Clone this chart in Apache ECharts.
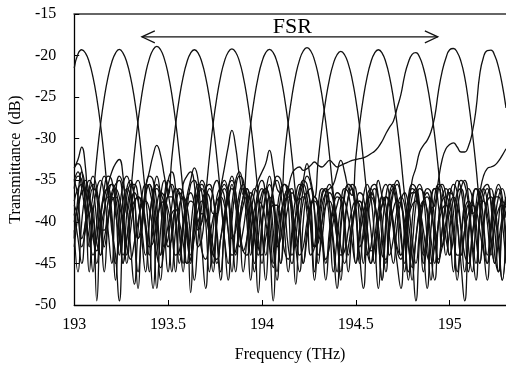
<!DOCTYPE html>
<html>
<head>
<meta charset="utf-8">
<script src="https://cdn.jsdelivr.net/npm/echarts@6/dist/echarts.min.js"></script>
<style>
  html, body { margin: 0; padding: 0; background: #fff; }
  #chart { width: 506px; height: 370px; }
</style>
</head>
<body>
<div id="chart"></div>
<script>
// frequency grid (THz)
var freqs = [
  193.00,193.02,193.04,193.06,193.08,193.10,193.12,193.14,193.16,193.18,
  193.20,193.22,193.24,193.26,193.28,193.30,193.32,193.34,193.36,193.38,
  193.40,193.42,193.44,193.46,193.48,193.50,193.52,193.54,193.56,193.58,
  193.60,193.62,193.64,193.66,193.68,193.70,193.72,193.74,193.76,193.78,
  193.80,193.82,193.84,193.86,193.88,193.90,193.92,193.94,193.96,193.98,
  194.00,194.02,194.04,194.06,194.08,194.10,194.12,194.14,194.16,194.18,
  194.20,194.22,194.24,194.26,194.28,194.30,194.32,194.34,194.36,194.38,
  194.40,194.42,194.44,194.46,194.48,194.50,194.52,194.54,194.56,194.58,
  194.60,194.62,194.64,194.66,194.68,194.70,194.72,194.74,194.76,194.78,
  194.80,194.82,194.84,194.86,194.88,194.90,194.92,194.94,194.96,194.98,
  195.00,195.02,195.04,195.06,195.08,195.10,195.12,195.14,195.16,195.18,
  195.20,195.22,195.24,195.26,195.28,195.30
];

// transmittance of each output channel (dB)
var ch1 = [
  -21.5,-19.8,-19.3,-19.7,-20.8,-22.6,-25.1,-28.3,-32.3,-36.8,
  -40,-47,-39,-35.5,-34.5,-36,-41,-48,-40,-36,
  -34.5,-35,-38,-44,-38,-35,-34,-36,-41,-46,
  -39,-35.5,-35,-37,-43,-48,-40,-36,-35,-37.5,
  -42,-45,-38,-35,-34,-36,-40,-47,-41,-37,
  -36,-37,-40,-45,-39,-36,-35.5,-38,-44,-42,
  -37,-35,-35.5,-39,-46,-40,-36.5,-36,-38,-43,
  -48,-41,-37,-35.5,-36,-39,-45,-41,-37,-36,
  -37.5,-42,-47,-40,-36.5,-35.5,-37,-41,-46,-40,
  -37,-36,-38,-43,-48,-41,-37,-35.5,-36,-39,
  -44,-42,-37,-35,-35.5,-38,-43,-47,-40,-37,
  -36,-37.5,-41,-46,-40,-37
];
var ch2 = [
  -33.5,-32.5,-31,-33.5,-39,-36.8,-32.3,-28.3,-25.1,-22.6,
  -20.8,-19.7,-19.25,-19.7,-20.8,-22.6,-25.1,-28.3,-32.3,-36.8,
  -42,-48,-41,-37,-35,-36.5,-40,-46,-39,-35.5,
  -34.5,-34,-35.5,-41,-40,-36,-35.5,-37,-42,-47,
  -40,-36,-35,-36.5,-40,-46,-42,-37.5,-36,-37,
  -41,-47,-40,-36,-34.5,-35,-38,-43,-45,-39,
  -36,-35.5,-37,-41,-47,-41,-37,-36,-38,-42,
  -46,-40,-36.5,-35.5,-36,-39,-44,-48,-41,-37,
  -36,-37,-40,-45,-40,-36.5,-35.5,-37,-41,-46,
  -43,-38,-36,-36.5,-39,-44,-47,-40,-37,-36,
  -37,-41,-47,-42,-37.5,-36,-37,-40,-45,-41,
  -37,-36,-38,-42,-47,-41
];
var ch3 = [
  -35,-34,-36,-39,-42,-44,-42,-39,-37,-35.5,
  -34,-33,-32.5,-34.5,-39,-36.4,-31.9,-27.9,-24.7,-22.2,
  -20.4,-19.3,-18.9,-19.3,-20.4,-22.2,-24.7,-27.9,-31.9,-36.4,
  -42,-44.5,-41,-38.5,-37.5,-38,-40,-43,-45,-42,
  -39,-37.5,-35.5,-38,-40.5,-43.5,-44,-41,-38.5,-37.5,
  -38,-40,-43,-45.5,-42,-39,-37.5,-37,-38.5,-41,
  -44,-43,-40,-38,-37.5,-38.5,-41,-44.5,-43,-40,
  -38,-37,-37.5,-39.5,-42.5,-45,-42,-39,-37.5,-37,
  -38,-40.5,-44,-44.5,-41,-38.5,-37.5,-38,-40,-43,
  -45.5,-42,-39,-37.5,-37,-38.5,-41.5,-44.5,-43,-40,
  -38,-37,-38,-40.5,-44,-45,-41.5,-39,-37.5,-37.5,
  -39,-42,-45,-42.5,-39.5,-38
];
var ch4 = [
  -36,-34.5,-35,-38,-43,-38,-49.5,-40,-36,-34.5,
  -35,-38,-44,-40,-36,-35,-37,-42,-41,-36,
  -34,-32,-30.8,-32,-34.5,-36.8,-32.3,-28.3,-25.1,-22.6,
  -20.8,-19.7,-19.3,-19.7,-20.8,-22.6,-25.1,-28.3,-32.3,-36.8,
  -42,-47,-40,-36,-34.5,-35,-38,-44,-40,-36,
  -35,-37,-42,-49.5,-41,-37,-35.5,-36,-40,-47.5,
  -40,-36,-34.5,-35.5,-39,-45,-40,-36.5,-35.5,-37,
  -41,-47,-41,-37,-35.5,-36,-40,-45,-39,-36,
  -35.5,-37,-42,-46,-39,-36,-35,-37,-42,-47,
  -40,-36.5,-35.5,-37,-42,-47,-40,-36,-35.5,-37,
  -41,-46,-39,-36,-35,-37,-42,-45,-39,-36,
  -35.5,-38,-44,-46,-40,-37
];
var ch5 = [
  -33.5,-33,-33.8,-38,-46,-39,-36,-35,-37,-41,
  -45,-37,-34.5,-35.5,-38,-43,-47.5,-41,-37,-35.5,
  -36,-39,-48,-41,-37,-35,-36,-39,-44,-40,
  -37,-35,-33.5,-35,-40,-36.7,-32.2,-28.2,-25.0,-22.5,
  -20.7,-19.6,-19.2,-19.6,-20.7,-22.5,-25.0,-28.2,-32.2,-36.7,
  -41,-44,-39,-36,-35,-36.5,-41,-46,-41,-37,
  -35.5,-36,-39,-44,-43,-38,-36,-36.5,-40,-46,
  -42,-38,-36,-36.5,-40,-45,-41,-37,-35.5,-37,
  -42,-48,-41,-37,-35.5,-36,-39,-44,-42,-38,
  -36,-36.5,-40,-46,-42,-38,-36,-36,-39,-44,
  -41,-37,-35,-36,-40,-46,-42,-38,-36,-37,
  -40,-44,-40,-37,-36,-38
];
var ch6 = [
  -38,-39.5,-43,-41,-38,-36,-36.5,-39,-43,-40,
  -37,-36,-37,-40,-45,-41,-38,-37,-37.5,-40,
  -44,-41,-38,-36.5,-37,-40,-46,-41,-38,-37,
  -38,-42,-47,-42,-38,-36.5,-37,-39,-39,-36,
  -33.5,-31,-29,-31,-34.5,-36.75,-32.25,-28.25,-25.05,-22.55,
  -20.75,-19.65,-19.25,-19.65,-20.75,-22.55,-25.05,-28.25,-32.25,-36.75,
  -40,-45,-41,-38,-37,-38.5,-42,-47,-42,-38.5,
  -37,-37.5,-41,-46,-41,-38,-37.5,-39,-44,-43,
  -39,-35,-37,-39.5,-44,-42,-38.5,-37,-38,-42,
  -47,-42,-38.5,-37.5,-38.5,-42,-45,-40,-37.5,-37,
  -38,-41,-46,-42,-38.5,-37.5,-38.5,-42,-45,-40,
  -37.5,-37,-39,-43,-47,-42
];
var ch7 = [
  -40,-38,-36.5,-36,-37,-39.5,-42.5,-44,-42,-39.5,
  -37.5,-37,-38,-40.5,-43,-44.5,-42.5,-40,-38,-37.5,
  -38.5,-41,-44,-45.5,-43,-40.5,-39,-38.5,-40,-42.5,
  -45,-44.5,-42,-40,-39,-39.5,-41.5,-44,-44.5,-42,
  -39.5,-36,-34.5,-36.5,-41.5,-43.5,-42,-39,-36.5,-35,
  -34,-33,-31.4,-33.5,-36,-36.55,-32.05,-28.05,-24.85,-22.35,
  -20.55,-19.45,-19.05,-19.45,-20.55,-22.35,-24.85,-28.05,-32.05,-36.55,
  -40,-43,-45,-43,-40,-38,-37.5,-38.5,-41,-43.5,
  -43,-40,-38,-37,-38,-40.5,-43.5,-44.5,-42,-39.5,
  -38,-37.5,-38.5,-41,-44,-45,-43,-40.5,-38.5,-38,
  -39,-41.5,-44,-44,-41,-39,-38,-38.5,-41,-43.5,
  -45,-43,-40.5,-38.5,-38,-39.5
];
var ch8 = [
  -42,-37,-34,-36,-40,-46,-40,-36,-34.5,-36,
  -41,-44,-49.5,-41,-37,-35.5,-37,-42,-40,-36.5,
  -35.5,-37.5,-42,-47,-40,-36.5,-35.5,-37,-41,-45,
  -40,-48.5,-40,-36.5,-35,-36,-40,-45,-39,-36,
  -35,-36.5,-41,-46,-40,-37,-36,-37.5,-41,-48.5,
  -41,-37,-35.5,-37,-41,-45,-39,-36.5,-36,-37.5,
  -37,-35,-33,-35,-37,-32.5,-28.5,-25.3,-22.8,-21,
  -19.9,-19.5,-19.9,-21,-22.8,-25.3,-28.5,-32.5,-37,-41,
  -45,-40,-36.5,-35.5,-37,-41,-45,-48,-41,-37,
  -35.5,-36,-39,-44,-41,-37,-36,-38,-43,-41,
  -37,-35.5,-36.5,-41,-46,-41,-37,-36,-38,-43,
  -47,-41,-37,-35.5,-37,-42
];
var ch9 = [
  -35,-37,-42,-40,-36,-34.5,-36,-40,-46,-40,
  -36.5,-35.5,-35,-38,-44,-39,-36,-35,-37,-41,
  -46,-38,-35.5,-36.5,-38,-43,-42,-38,-36,-36.5,
  -40,-45,-40,-37,-36,-37.5,-42,-46,-40,-36.5,
  -35.5,-37,-42,-41,-37.5,-36,-36.5,-40,-46,-42,
  -37.5,-36,-37,-41,-46,-40,-37,-36,-38,-43,
  -41,-37.5,-36.5,-38,-43,-42,-38,-36.5,-36,-35.5,
  -34,-32.6,-34,-36,-36.8,-32.3,-28.3,-25.1,-22.6,-20.8,
  -19.7,-19.3,-19.7,-20.8,-22.6,-25.1,-28.3,-32.3,-36.8,-40,
  -44,-49.5,-42,-37.5,-36,-36.5,-40,-45,-41,-37.5,
  -36,-37,-40,-45,-49.5,-42,-38,-36,-36.5,-40,
  -45,-41,-37.5,-36,-38,-43
];
var ch10 = [
  -43,-39,-36,-35,-37,-41,-45,-40,-36.5,-36,
  -39,-45,-42,-37.5,-36,-37,-41,-46,-41,-37,
  -35.5,-36.5,-40,-44,-40,-37,-37,-40,-45,-41,
  -37.5,-36.5,-38,-43,-42,-38,-36,-37,-41,-46,
  -41,-37,-36,-38,-43,-41,-38,-36.5,-37.5,-42,
  -45,-40,-37,-38,-43,-42,-38,-36,-34.2,-33.6,
  -33.4,-33.8,-33.6,-33.2,-32.8,-33.2,-33.4,-33.0,-32.6,-33.0,
  -33.4,-33.2,-33.0,-32.8,-32.6,-32.5,-32.4,-32.3,-32.1,-31.8,
  -31.5,-31.0,-30.3,-29.4,-28.6,-27.9,-26.3,-24.7,-22.4,-20.8,
  -19.85,-19.65,-20.2,-21.5,-23.5,-26.2,-29.6,-33.7,-38.6,-42,
  -44,-39,-36.5,-36,-38,-43,-46,-40,-37,-36,
  -37.5,-42,-45,-40,-37.5,-38
];
var ch11 = [
  -37.5,-36,-35.5,-36.5,-39,-42,-43.5,-41,-38.5,-37,
  -37,-39,-42,-44,-42,-39,-37.5,-37,-38,-40.5,
  -43,-42.5,-40,-38,-37.5,-38.5,-41,-44,-43.5,-40.5,
  -38.5,-37.5,-38,-40.5,-43.5,-44.5,-42,-39.5,-37.5,-37,
  -38,-41,-44,-43.5,-40.5,-38,-37,-37.5,-40,-43,
  -44,-42,-39.5,-38,-38,-40.5,-43.5,-44.5,-42,-39.5,
  -37.5,-37,-38,-40.5,-43,-42.5,-40,-38,-37.5,-39,
  -42,-44,-43.5,-41,-38.5,-37.5,-38,-40.5,-43.5,-45,
  -43,-40,-38,-37,-37.5,-40,-43,-44,-41.5,-38.5,
  -35,-33.5,-31.6,-30.8,-30.2,-29.2,-27.4,-24.3,-21.9,-20.3,
  -19.3,-19.15,-19.6,-20.7,-22.6,-25.5,-29.1,-33.3,-38,-41,
  -44,-40,-37,-37,-40,-45
];
var ch12 = [
  -41,-46,-40,-36.5,-35,-36,-40,-44,-39,-36,
  -35.5,-37,-41,-45,-39,-36,-35.5,-37,-42,-46,
  -40,-36.5,-36,-38,-43,-42,-38,-36,-36.5,-40,
  -45,-41,-37,-35.5,-36.5,-40,-46,-41,-37,-36,
  -37,-41,-46,-40,-36.5,-35.5,-37,-42,-45,-39,
  -36.5,-36,-38,-43,-47,-40,-37,-36,-38,-43,
  -46,-40,-36.5,-36,-38.5,-44,-42,-38,-36.5,-37.5,
  -42,-46,-40,-37,-36,-38,-43,-42,-38,-36.5,
  -37.5,-42,-47,-41,-37,-36,-38,-42,-45,-39,
  -36.5,-36.5,-40,-45,-41,-38.5,-38,-35,-32.5,-31.2,
  -30.7,-30.5,-31.0,-31.6,-31.6,-30.9,-29.3,-26.5,-22.3,-20.2,
  -19.4,-19.35,-20.0,-21.4,-23.5,-26.3
];
var ch13 = [
  -39,-42,-45,-40,-36.5,-35.5,-37,-41,-41,-37.5,
  -35.5,-36,-39,-45,-42,-38,-36.5,-37.5,-41,-44,
  -40,-36.5,-34.5,-37,-41,-46,-41,-38,-36.5,-37.5,
  -41,-44,-39,-36,-35.5,-37.5,-41,-44,-40,-37,
  -36,-37.5,-40.5,-44,-40,-37,-36,-38,-42,-44,
  -40,-36.5,-34.5,-37.5,-41.5,-45,-41,-38,-36.5,-37.5,
  -40.5,-45,-42,-38.5,-37,-38,-42,-45,-41,-38,
  -36.5,-37,-40,-44,-41,-38,-36.5,-37,-40.5,-45,
  -42,-38.5,-37,-38,-42,-45,-40.5,-37.5,-36.5,-38,
  -42,-45,-41,-37.5,-36.5,-38,-42,-45,-41,-38,
  -36.5,-37,-40,-44,-41,-38,-39,-38.5,-36.5,-34.5,
  -33.6,-33.4,-33.2,-32.7,-32.0,-31.2
];

var channels = [ch1, ch2, ch3, ch4, ch5, ch6, ch7, ch8, ch9, ch10, ch11, ch12, ch13];

// FSR annotation (data coordinates)
var fsrFrom = 193.36;
var fsrTo = 194.937;
var fsrLevel = -17.75;
var fsrText = [194.162, -16.62];

channels.forEach(function (ch, k) {
    if (ch.length !== freqs.length) {
        throw new Error('ch' + (k + 1) + ' has ' + ch.length + ' points');
    }
});

var serif = '"Liberation Serif", "Times New Roman", serif';

var chart = echarts.init(document.getElementById('chart'), null, { renderer: 'canvas' });

var series = channels.map(function (ch, k) {
    return {
        type: 'line',
        name: 'ch' + (k + 1),
        data: freqs.map(function (f, i) { return [f, ch[i]]; }),
        symbol: 'none',
        smooth: true,
        silent: true,
        lineStyle: { color: '#111', width: 1.3 }
    };
});

chart.setOption({
    animation: false,
    backgroundColor: '#fff',
    grid: { left: 72, right: 0, top: 14, bottom: 65 },
    xAxis: [{
        type: 'value',
        min: 193,
        max: 195.3,
        interval: 0.5,
        name: 'Frequency (THz)',
        nameLocation: 'middle',
        nameGap: 42,
        nameTextStyle: { fontFamily: serif, fontSize: 16, color: '#000' },
        axisLine: { show: true, onZero: false, lineStyle: { color: '#000', width: 1.3 } },
        axisTick: { show: true, inside: true, length: 5, lineStyle: { color: '#000' } },
        axisLabel: { showMaxLabel: false, margin: 12, fontFamily: serif, fontSize: 16, color: '#000' },
        splitLine: { show: false }
    }, {
        type: 'value',
        position: 'top',
        min: 193,
        max: 195.3,
        axisLine: { show: true, lineStyle: { color: '#666', width: 2 } },
        axisTick: { show: false },
        axisLabel: { show: false },
        splitLine: { show: false }
    }],
    yAxis: {
        type: 'value',
        min: -50,
        max: -15,
        interval: 5,
        name: 'Transmittance  (dB)',
        nameLocation: 'middle',
        nameGap: 45,
        nameTextStyle: { fontFamily: serif, fontSize: 16, color: '#000' },
        axisLine: { show: true, onZero: false, lineStyle: { color: '#000', width: 1.3 } },
        axisTick: { show: true, inside: true, length: 5, lineStyle: { color: '#000' } },
        axisLabel: { margin: 18, fontFamily: serif, fontSize: 16, color: '#000' },
        splitLine: { show: false }
    },
    series: series
});

// FSR arrow
var p0 = chart.convertToPixel({ gridIndex: 0 }, [fsrFrom, fsrLevel]);
var p1 = chart.convertToPixel({ gridIndex: 0 }, [fsrTo, fsrLevel]);
var pt = chart.convertToPixel({ gridIndex: 0 }, fsrText);
var arrowStyle = { stroke: '#111', fill: null, lineWidth: 1.2 };

chart.setOption({
    graphic: [
        { type: 'line', shape: { x1: p0[0], y1: p0[1], x2: p1[0], y2: p1[1] }, style: arrowStyle, silent: true },
        { type: 'polyline', shape: { points: [[p0[0] + 13, p0[1] - 6], [p0[0], p0[1]], [p0[0] + 13, p0[1] + 6]] }, style: arrowStyle, silent: true },
        { type: 'polyline', shape: { points: [[p1[0] - 13, p1[1] - 6], [p1[0], p1[1]], [p1[0] - 13, p1[1] + 6]] }, style: arrowStyle, silent: true },
        {
            type: 'text', x: pt[0], y: pt[1], silent: true,
            style: {
                text: 'FSR', font: '22px ' + serif, fill: '#000',
                align: 'center', verticalAlign: 'middle',
                textAlign: 'center', textVerticalAlign: 'middle'
            }
        }
    ]
});
</script>
</body>
</html>
